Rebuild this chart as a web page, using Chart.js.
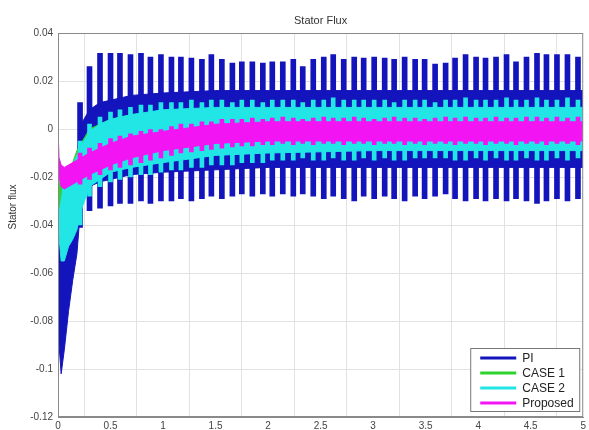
<!DOCTYPE html>
<html>
<head>
<meta charset="utf-8">
<title>Stator Flux</title>
<script src="https://cdn.jsdelivr.net/npm/chart.js@4.4.0/dist/chart.umd.min.js"></script>
<style>
	html, body { margin: 0; padding: 0; background: #fff; }
	#wrap { width: 589px; height: 430px; }
</style>
</head>
<body>
<div id="wrap"><canvas id="stator-flux-chart" width="589" height="430"></canvas></div>
<script>
var chartTitle = 'Stator Flux';
var yLabel = 'Stator flux';
var seriesNames = ['PI', 'CASE 1', 'CASE 2', 'Proposed'];
var seriesColors = ['#1414bc', '#2ed42e', '#22e6e6', '#f214f2'];

// time of each envelope point (s)
var bandT = [0, 0.01, 0.03, 0.06, 0.1, 0.14, 0.18, 0.22, 0.3, 0.4, 0.5, 0.7, 1.0, 1.5, 2.0, 3.0, 4.0, 5.0];
// solid band of each signal
var piUpper = [-0.02, -0.03, -0.04, -0.04, -0.035, -0.025, -0.012, 0.002, 0.008, 0.011, 0.012, 0.014, 0.015, 0.016, 0.016, 0.016, 0.016, 0.016];
var piLower = [-0.025, -0.09, -0.102, -0.092, -0.076, -0.063, -0.052, -0.03, -0.024, -0.022, -0.021, -0.019, -0.018, -0.017, -0.016, -0.016, -0.016, -0.016];
var case1Upper = [-0.015, -0.022, -0.023, -0.022, -0.018, -0.014, -0.009, -0.006, 0.0, 0.002, 0.004, 0.006, 0.007, 0.008, 0.008, 0.008, 0.008, 0.008];
var case1Lower = [-0.02, -0.038, -0.04, -0.04, -0.04, -0.038, -0.034, -0.03, -0.02, -0.017, -0.016, -0.014, -0.012, -0.01, -0.009, -0.008, -0.008, -0.008];
var case2Upper = [-0.03, -0.035, -0.03, -0.02, -0.018, -0.015, -0.011, -0.007, -0.001, 0.002, 0.004, 0.006, 0.008, 0.009, 0.009, 0.009, 0.009, 0.009];
var case2Lower = [-0.035, -0.045, -0.055, -0.055, -0.049, -0.046, -0.042, -0.034, -0.024, -0.021, -0.018, -0.016, -0.014, -0.011, -0.01, -0.009, -0.009, -0.009];
var propUpper = [0.0, -0.012, -0.015, -0.016, -0.015, -0.014, -0.013, -0.012, -0.010, -0.008, -0.006, -0.003, -0.001, 0.002, 0.003, 0.003, 0.003, 0.003];
var propLower = [-0.006, -0.02, -0.024, -0.025, -0.024, -0.023, -0.022, -0.021, -0.019, -0.017, -0.015, -0.012, -0.009, -0.006, -0.005, -0.005, -0.005, -0.005];

// time of each oscillation peak (s)
var colT = [0.21, 0.30, 0.40, 0.50, 0.59, 0.69, 0.79, 0.88, 0.98, 1.08,
	1.17, 1.27, 1.37, 1.46, 1.56, 1.66, 1.75, 1.85, 1.95, 2.04,
	2.14, 2.24, 2.33, 2.43, 2.53, 2.62, 2.72, 2.82, 2.91, 3.01,
	3.11, 3.20, 3.30, 3.40, 3.49, 3.59, 3.69, 3.78, 3.88, 3.98,
	4.07, 4.17, 4.27, 4.36, 4.46, 4.56, 4.65, 4.75, 4.85, 4.95];
// peak max / min of each oscillation
var piHigh = [0.011, 0.026, 0.0315, 0.0315, 0.0315, 0.031, 0.0315, 0.030, 0.031, 0.030,
	0.030, 0.0295, 0.029, 0.031, 0.029, 0.0275, 0.028, 0.028, 0.0275, 0.028,
	0.028, 0.029, 0.026, 0.029, 0.030, 0.031, 0.029, 0.030, 0.0295, 0.030,
	0.0295, 0.029, 0.030, 0.029, 0.029, 0.027, 0.0275, 0.0295, 0.031, 0.030,
	0.0295, 0.030, 0.031, 0.028, 0.030, 0.0315, 0.031, 0.031, 0.031, 0.030];
var piLow = [-0.041, -0.034, -0.033, -0.032, -0.031, -0.031, -0.030, -0.031, -0.030, -0.030,
	-0.029, -0.030, -0.029, -0.028, -0.029, -0.028, -0.027, -0.028, -0.027, -0.028,
	-0.027, -0.028, -0.027, -0.028, -0.029, -0.028, -0.029, -0.030, -0.028, -0.029,
	-0.028, -0.029, -0.030, -0.028, -0.029, -0.028, -0.027, -0.029, -0.030, -0.029,
	-0.030, -0.029, -0.030, -0.029, -0.030, -0.031, -0.030, -0.029, -0.030, -0.029];
var case2High = [-0.005, 0.002, 0.005, 0.007, 0.008, 0.009, 0.010, 0.010, 0.011, 0.011,
	0.011, 0.012, 0.011, 0.012, 0.012, 0.011, 0.012, 0.012, 0.011, 0.012,
	0.012, 0.012, 0.011, 0.012, 0.012, 0.013, 0.012, 0.012, 0.012, 0.012,
	0.012, 0.011, 0.012, 0.012, 0.012, 0.011, 0.012, 0.012, 0.013, 0.012,
	0.012, 0.012, 0.013, 0.012, 0.012, 0.013, 0.012, 0.012, 0.013, 0.012];
var case2Low = [-0.040, -0.028, -0.024, -0.022, -0.021, -0.020, -0.019, -0.019, -0.018, -0.017,
	-0.017, -0.016, -0.016, -0.015, -0.015, -0.015, -0.014, -0.014, -0.014, -0.013,
	-0.013, -0.013, -0.012, -0.013, -0.013, -0.012, -0.013, -0.013, -0.012, -0.013,
	-0.012, -0.013, -0.013, -0.012, -0.012, -0.012, -0.012, -0.013, -0.013, -0.012,
	-0.013, -0.012, -0.013, -0.013, -0.012, -0.013, -0.013, -0.012, -0.013, -0.012];
var propHigh = [-0.010, -0.008, -0.006, -0.004, -0.003, -0.002, -0.001, 0.000, 0.000, 0.001,
	0.002, 0.002, 0.003, 0.003, 0.004, 0.004, 0.004, 0.0045, 0.004, 0.0045,
	0.005, 0.0045, 0.004, 0.0045, 0.005, 0.0045, 0.0045, 0.005, 0.0045, 0.004,
	0.0045, 0.005, 0.0045, 0.0045, 0.004, 0.0045, 0.005, 0.0045, 0.005, 0.0045,
	0.0045, 0.005, 0.0045, 0.0045, 0.005, 0.005, 0.0045, 0.005, 0.0045, 0.005];
var propLow = [-0.023, -0.021, -0.019, -0.017, -0.016, -0.015, -0.014, -0.013, -0.012, -0.011,
	-0.010, -0.0095, -0.009, -0.0085, -0.008, -0.0075, -0.007, -0.007, -0.0065, -0.0065,
	-0.006, -0.0065, -0.006, -0.0065, -0.006, -0.006, -0.0065, -0.006, -0.006, -0.0065,
	-0.006, -0.006, -0.0065, -0.006, -0.0065, -0.006, -0.006, -0.0065, -0.006, -0.006,
	-0.0065, -0.006, -0.006, -0.0065, -0.006, -0.006, -0.0065, -0.006, -0.006, -0.0065];

function toPoints(times, values) {
	var pts = [];
	for (var i = 0; i < times.length; i++) {
		pts.push({x: times[i], y: values[i]});
	}
	return pts;
}

function toColumns(times, lows, highs) {
	var pts = [];
	for (var i = 0; i < times.length; i++) {
		pts.push({x: times[i], y: [lows[i], highs[i]]});
	}
	return pts;
}

// upper edge fills down to the lower edge (next dataset)
function bandSets(upper, lower, color, order) {
	var common = {type: 'line', borderColor: color, backgroundColor: color, borderWidth: 1,
		pointRadius: 0, tension: 0, order: order};
	return [
		Object.assign({data: toPoints(bandT, upper), fill: '+1'}, common),
		Object.assign({data: toPoints(bandT, lower), fill: false}, common)
	];
}

function columnSet(lows, highs, color, order, thick) {
	return {type: 'bar', data: toColumns(colT, lows, highs), backgroundColor: color,
		barThickness: thick, grouped: false, order: order};
}

function plainTick(value) {
	return String(Number(value.toFixed(3)));
}

var datasets = [];
datasets = datasets.concat(bandSets(propUpper, propLower, seriesColors[3], 10));
datasets.push(columnSet(propLow, propHigh, seriesColors[3], 10, 4));
datasets = datasets.concat(bandSets(case2Upper, case2Lower, seriesColors[2], 20));
datasets.push(columnSet(case2Low, case2High, seriesColors[2], 20, 4));
datasets = datasets.concat(bandSets(case1Upper, case1Lower, seriesColors[1], 30));
datasets = datasets.concat(bandSets(piUpper, piLower, seriesColors[0], 40));
datasets.push(columnSet(piLow, piHigh, seriesColors[0], 40, 5));

// box, title, y label and legend drawn over the plot like the matlab figure
var framePlugin = {
	id: 'frame',
	afterDraw: function(chart) {
		var ctx = chart.ctx;
		var a = chart.chartArea;
		ctx.save();
		ctx.strokeStyle = '#8a8a8a';
		ctx.lineWidth = 1;
		ctx.strokeRect(a.left + 0.5, a.top + 0.5, a.right - a.left - 1, a.bottom - a.top - 1);

		ctx.fillStyle = '#333';
		ctx.font = '11px "Liberation Sans", Arial, sans-serif';
		ctx.textAlign = 'center';
		ctx.textBaseline = 'middle';
		ctx.fillText(chartTitle, (a.left + a.right) / 2, 21);

		ctx.save();
		ctx.translate(13, 207);
		ctx.rotate(-Math.PI / 2);
		ctx.font = '10px "Liberation Sans", Arial, sans-serif';
		ctx.fillText(yLabel, 0, 0);
		ctx.restore();

		// legend box
		var w = 110, h = 64;
		var bx = a.right - 3 - w, by = a.bottom - 5 - h;
		ctx.fillStyle = '#fff';
		ctx.fillRect(bx, by, w, h);
		ctx.strokeStyle = '#777';
		ctx.strokeRect(bx + 0.5, by + 0.5, w - 1, h - 1);
		ctx.textAlign = 'left';
		ctx.font = '12px "Liberation Sans", Arial, sans-serif';
		for (var i = 0; i < seriesNames.length; i++) {
			var ly = by + 10 + i * 15;
			ctx.strokeStyle = seriesColors[i];
			ctx.lineWidth = 3;
			ctx.beginPath();
			ctx.moveTo(bx + 10, ly);
			ctx.lineTo(bx + 46, ly);
			ctx.stroke();
			ctx.fillStyle = '#222';
			ctx.fillText(seriesNames[i], bx + 52, ly + 1);
		}
		ctx.restore();
	}
};

var ctx = document.getElementById('stator-flux-chart').getContext('2d');
var chart = new Chart(ctx, {
	type: 'bar',
	data: {datasets: datasets},
	options: {
		responsive: false,
		animation: false,
		devicePixelRatio: 1,
		layout: {padding: {top: 33, right: 3, left: 0, bottom: 0}},
		plugins: {
			legend: {display: false},
			tooltip: {enabled: false},
			title: {display: false}
		},
		scales: {
			x: {
				type: 'linear',
				min: 0,
				max: 5,
				offset: false,
				grid: {color: '#e2e2e2', drawTicks: false},
				border: {color: '#8a8a8a'},
				ticks: {stepSize: 0.5, padding: 3, color: '#444', font: {size: 10, family: 'Liberation Sans'}, callback: plainTick},
				afterFit: function(scale) { scale.height = 13; }
			},
			y: {
				type: 'linear',
				min: -0.12,
				max: 0.04,
				grid: {color: '#e2e2e2', drawTicks: false},
				border: {color: '#8a8a8a'},
				ticks: {stepSize: 0.02, padding: 5, color: '#444', font: {size: 10, family: 'Liberation Sans'}, callback: plainTick},
				afterFit: function(scale) { scale.width = 58; }
			}
		}
	},
	plugins: [framePlugin]
});
</script>
</body>
</html>
